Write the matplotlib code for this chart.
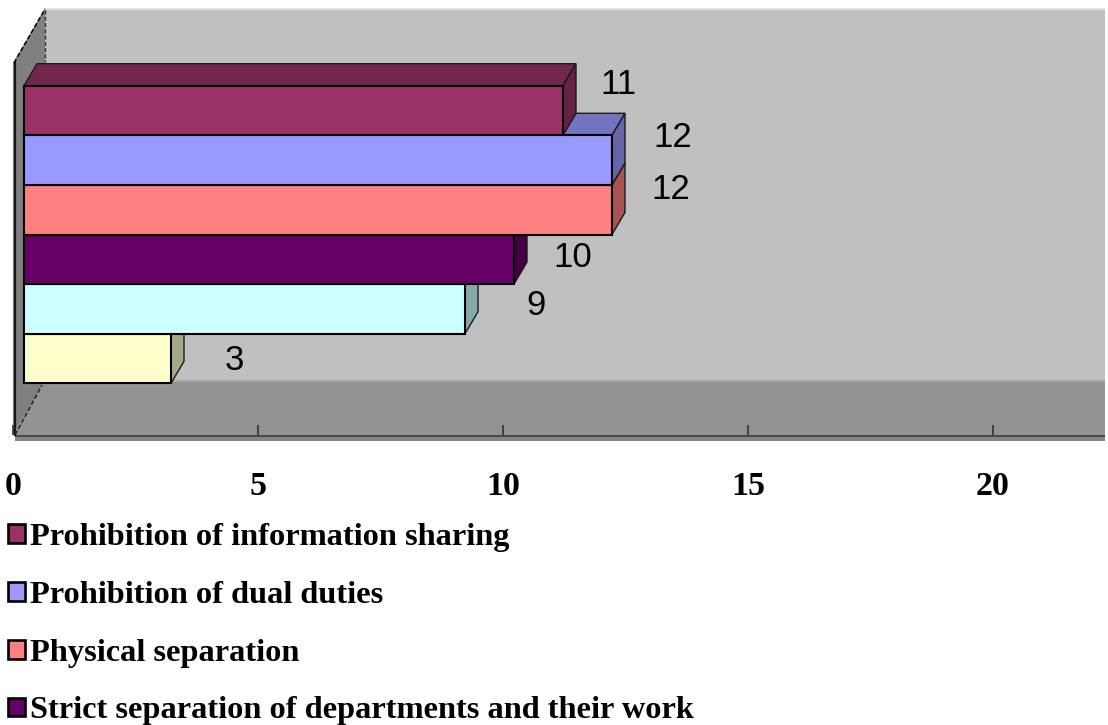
import matplotlib
matplotlib.use("Agg")
import matplotlib.pyplot as plt
from matplotlib.patches import Patch, Polygon, Rectangle
from matplotlib.colors import to_rgb

# datos (de abajo hacia arriba)
valores = [3, 9, 10, 12, 12, 11]
colores = ["#ffffcc", "#ccffff", "#660066", "#ff8080", "#9999ff", "#993366"]
etiquetas_leyenda = [
    "Prohibition of information sharing",
    "Prohibition of dual duties",
    "Physical separation",
    "Strict separation of departments and their work",
]
colores_leyenda = ["#993366", "#9999ff", "#ff8080", "#660066"]
ticks_x = [0, 5, 10, 15, 20]

# posicion de las etiquetas respecto al extremo del frente de cada barra, en pixeles
desp_etiquetas = [(63, -2), (71, 3), (59, 2), (59, 20), (61, 23), (55, 26)]

W, H = 1108, 725
DER = 1105  # borde derecho del grafico
fig = plt.figure(figsize=(W / 100, H / 100), dpi=100, facecolor="white")

# fondo 3D en pixeles
fondo = fig.add_axes([0, 0, 1, 1])
fondo.set_xlim(0, W)
fondo.set_ylim(H, 0)
fondo.axis("off")
fondo.add_patch(Rectangle((45, 9), DER - 45, 372, fc="#c0c0c0", ec="none"))
fondo.add_patch(Rectangle((45, 8), DER - 45, 1.5, fc="#e0e0e0", ec="none"))
fondo.add_patch(Polygon([(13, 435), (DER, 435), (DER, 381), (45, 381)], fc="#939393", ec="none"))
fondo.add_patch(Rectangle((15, 435), DER - 15, 5.5, fc="#858585", ec="none"))
fondo.add_patch(Rectangle((15, 435), DER - 15, 2, fc="#4a4a4a", ec="none"))
fondo.add_patch(Rectangle((45, 380), DER - 45, 2, fc="#a8a8a8", ec="none"))
fondo.add_patch(Polygon([(13, 63), (45, 8), (45, 381), (13, 435)], fc="#808080", ec="none"))
fondo.plot([14.5, 14.5], [63, 435], color="#1a1a1a", lw=1.6)
fondo.plot([14, 45], [63, 9], color="black", lw=1.1, ls=(0, (3, 1.5)))
fondo.plot([15, 42], [435, 385], color="#222222", lw=1.1, ls=(0, (3, 1.5)))
fondo.plot([45, 45], [10, 62], color="#333333", lw=1, ls=(0, (3, 1.5)))

# eje principal: valor -> x, categoria -> y
ax = fig.add_axes([13 / W, (H - 435) / H, (W - 13) / W, 435 / H])
ax.patch.set_alpha(0)
ax.set_xlim(0, (W - 13) / 49)
ax.set_ylim((358.5 - 435) / 49.6, 358.5 / 49.6)
for s in ax.spines.values():
    s.set_visible(False)
ax.set_yticks([])
ax.set_xticks(ticks_x)
ax.set_xticklabels([str(t) for t in ticks_x], family="Liberation Serif", weight="bold", fontsize=24.5)
ax.tick_params(axis="x", direction="in", length=7, width=1.2, color="#333333", pad=26)

frente_x = 11 / 49  # desplazamiento del frente respecto al suelo
prof_x = 13 / 49
prof_y = 22 / 49.6


def oscuro(color, f):
    r, g, b = to_rgb(color)
    return (r * f, g * f, b * f)


for i, (v, c) in enumerate(zip(valores, colores)):
    x0, x1 = frente_x, frente_x + v
    y0, y1 = i - 0.5, i + 0.5
    ax.add_patch(Polygon([(x0, y1), (x1, y1), (x1 + prof_x, y1 + prof_y), (x0 + prof_x, y1 + prof_y)],
                         fc=oscuro(c, 0.75), ec="#1a1a1a", lw=1.0, zorder=2 + i))
    ax.add_patch(Polygon([(x1, y0), (x1 + prof_x, y0 + prof_y), (x1 + prof_x, y1 + prof_y), (x1, y1)],
                         fc=oscuro(c, 0.66), ec="#1a1a1a", lw=1.0, zorder=2 + i))
    ax.barh(i, v, height=1, left=frente_x, color=c, edgecolor="black", linewidth=1.5, zorder=2 + i)
    dx, dy = desp_etiquetas[i]
    ax.annotate(str(v), (x1, i), xytext=(dx * 0.72, dy * 0.72),
                textcoords="offset points", ha="center", va="center",
                family="Liberation Sans", fontsize=25, color="black", zorder=20)

fig.legend(
    handles=[Patch(fc=c, ec="black", lw=1.9) for c in colores_leyenda],
    labels=etiquetas_leyenda,
    loc="upper left", bbox_to_anchor=(0 / W, 1 - 515 / H),
    frameon=False, prop={"family": "Liberation Serif", "weight": "bold", "size": 23.3},
    handlelength=0.52, handleheight=0.52, handletextpad=0.15, labelspacing=0.89,
    borderpad=0.25, borderaxespad=0,
)

fig.savefig("out.png", dpi=100)
